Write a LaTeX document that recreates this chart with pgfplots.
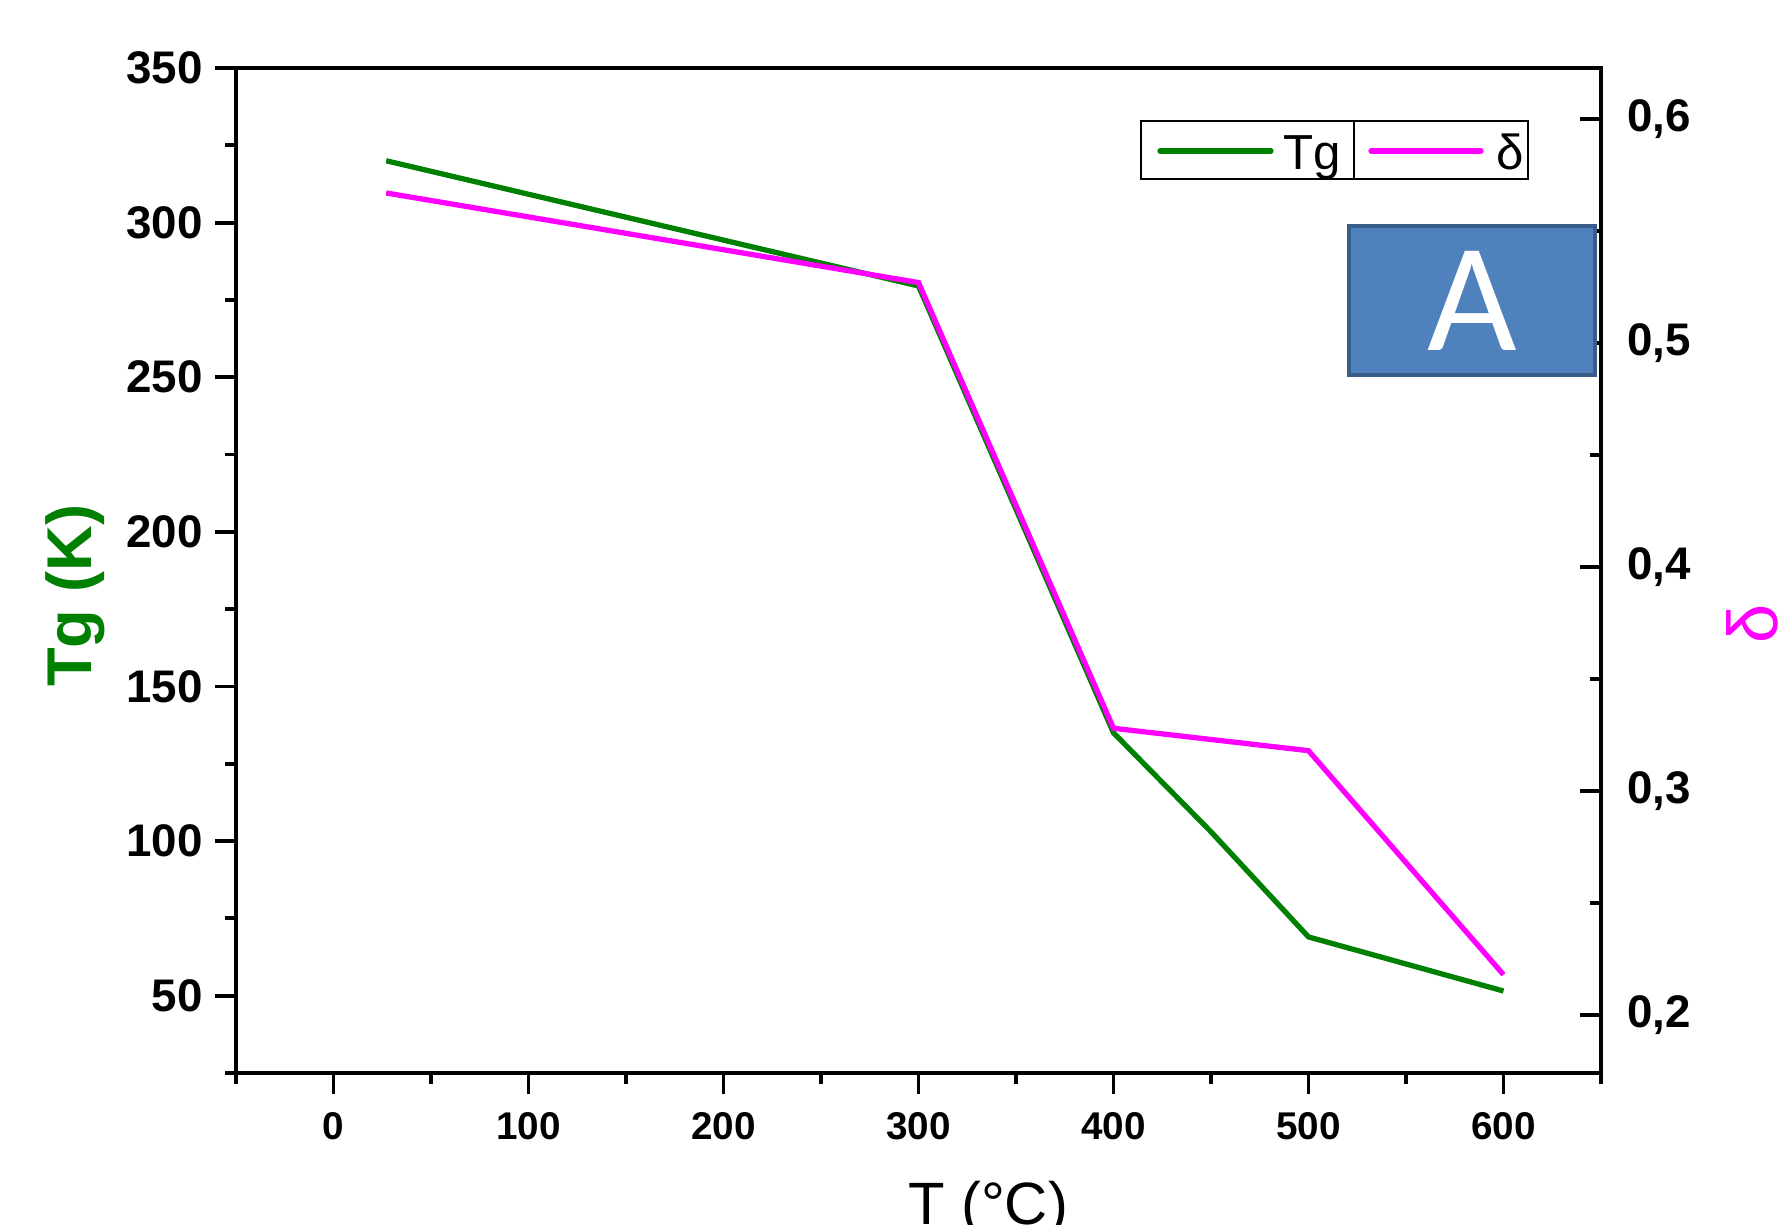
\documentclass[border=0pt]{standalone}
\usepackage{pgfplots}
\pgfplotsset{compat=1.18}
\usetikzlibrary{calc}
\usepackage{fontspec}
\setmainfont{Liberation Sans}
\newfontfamily\carlito{Carlito}
\definecolor{tggreen}{RGB}{0,128,0}
\definecolor{deltamag}{RGB}{255,0,255}
\definecolor{boxblue}{RGB}{79,129,189}
\definecolor{boxedge}{RGB}{56,93,138}

\pgfplotsset{
  common/.style={
    scale only axis, width=136.5mm, height=100.5mm,
    xmin=-50, xmax=650,
    axis line style={line width=1.1pt},
    every tick/.append style={black, line width=1.1pt},
    major tick length=2.1mm, minor tick length=1.1mm,
    /pgf/number format/assume math mode=true,
  }
}

\begin{document}
\begin{tikzpicture}
% left axis: glass transition temperature
\begin{axis}[
  common,
  ymin=25, ymax=350,
  xtick={0,100,200,300,400,500,600},
  minor xtick={-50,50,150,250,350,450,550,650},
  ytick={50,100,150,200,250,300,350},
  minor ytick={25,75,125,175,225,275,325},
  xtick pos=bottom, ytick pos=left, tick align=outside,
  xticklabel style={font=\bfseries\fontsize{11}{11}\selectfont, yshift=-0.6mm},
  yticklabel style={font=\bfseries\fontsize{13}{13}\selectfont},
  xlabel={T (°C)},
  xlabel style={at={(axis description cs:0.551,0)}, anchor=north, inner sep=0pt,
    yshift=-10.8mm, font=\fontsize{17}{17}\selectfont},
  ylabel={Tg (K)},
  ylabel style={at={($(axis description cs:0,0.475)+(-16.1mm,0)$)}, anchor=center,
    font=\bfseries\fontsize{18}{18}\selectfont, text=tggreen},
]
\addplot[tggreen, line width=1.5pt] coordinates {
  (27,320) (300,279.5) (400,135) (450,103) (500,69) (600,51.5)
};
\end{axis}
% right axis: delta
\begin{axis}[
  common,
  ymin=0.1741, ymax=0.6228,
  axis x line=none, axis y line*=right,
  ytick={0.2,0.3,0.4,0.5,0.6},
  minor ytick={0.25,0.35,0.45,0.55},
  ytick pos=right, tick align=inside,
  /pgf/number format/.cd, use comma, fixed, fixed zerofill, precision=1,
  /pgfplots/.cd,
  yticklabel style={font=\bfseries\fontsize{13}{13}\selectfont, xshift=1.4mm},
  ylabel={δ},
  ylabel style={at={($(axis description cs:1,0.447)+(15.1mm,0)$)}, anchor=center,
    font=\fontsize{20}{20}\selectfont, text=deltamag},
]
\addplot[deltamag, line width=1.5pt] coordinates {
  (27,0.567) (300,0.527) (400,0.328) (500,0.318) (600,0.218)
};
\end{axis}
% legend
\draw[line width=0.6pt] (90.5mm,89.4mm) rectangle (129.2mm,95.2mm);
\draw[line width=0.6pt] (111.8mm,89.4mm) -- (111.8mm,95.2mm);
\draw[tggreen, line width=1.5pt, line cap=round] (92.4mm,92.2mm) -- (103.5mm,92.2mm);
\node[anchor=base west, inner sep=0pt, font=\fontsize{14}{14}\selectfont] at (104.7mm,90.3mm) {Tg};
\draw[deltamag, line width=1.5pt, line cap=round] (113.5mm,92.2mm) -- (124.5mm,92.2mm);
\node[anchor=base west, inner sep=0pt, font=\fontsize{14}{14}\selectfont] at (126mm,90.3mm) {δ};
% panel tag
\draw[fill=boxblue, draw=boxedge, line width=1pt] (111.3mm,69.8mm) rectangle (135.9mm,84.7mm);
\node[text=white, font=\carlito\fontsize{44}{44}\selectfont] at (123.6mm,77.25mm) {A};
\pgfresetboundingbox
\path[use as bounding box] (-23.6mm,-15.2mm) rectangle (154.4mm,107.3mm);
\end{tikzpicture}
\end{document}
